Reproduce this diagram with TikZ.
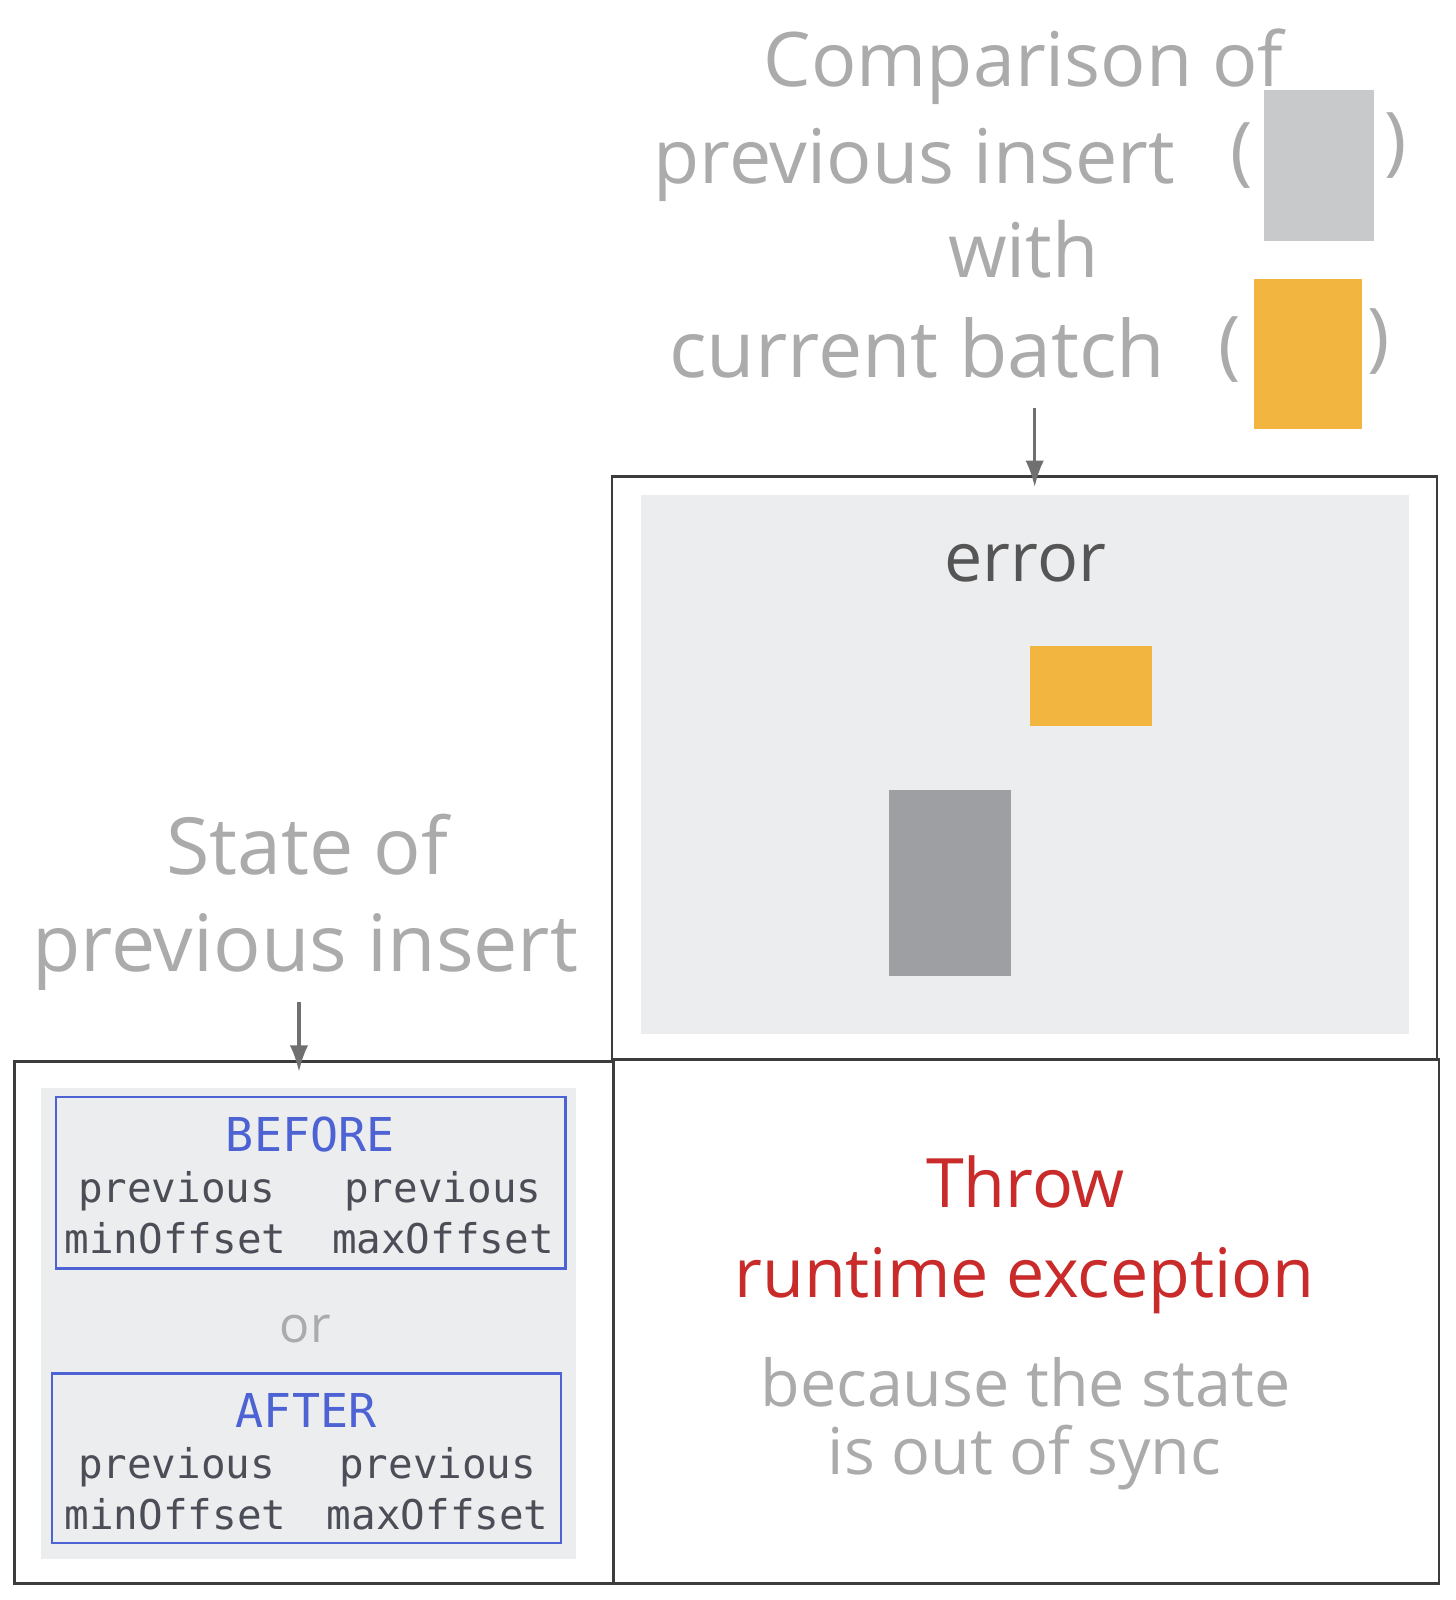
\documentclass[tikz,border=0pt]{standalone}
\usepackage{fontspec}
\setmainfont{Open Sans}
\setmonofont{DejaVu Sans Mono}
\usetikzlibrary{arrows.meta}

\definecolor{inkgray}{HTML}{ABABAB}
\definecolor{errink}{HTML}{555555}
\definecolor{panelgray}{HTML}{ECEDEF}
\definecolor{prevgray}{HTML}{C8C9CB}
\definecolor{darkblock}{HTML}{9D9FA3}
\definecolor{batchorange}{HTML}{F2B53F}
\definecolor{codeblue}{HTML}{4E63D3}
\definecolor{codeink}{HTML}{4B4E57}
\definecolor{throwred}{HTML}{C92A2A}
\definecolor{framegray}{HTML}{3C3C3C}
\definecolor{arrowgray}{HTML}{707070}

\begin{document}
\begin{tikzpicture}[
        x=0.01cm, y=-0.01cm,
        hand/.style={text=inkgray, inner sep=0pt, font=\fontsize{21}{25}\selectfont},
        block/.style={inner sep=0pt, outer sep=0pt, draw=none},
        gridcell/.style={draw=framegray, line width=0.8pt, inner sep=0pt},
        optbox/.style={draw=codeblue, line width=0.6pt, inner sep=0pt, minimum width=4.99cm},
        optname/.style={text=codeblue, inner sep=0pt, font=\ttfamily\fontsize{13}{15}\selectfont},
        codetxt/.style={text=codeink, inner sep=0pt, font=\ttfamily\fontsize{11.4}{14}\selectfont},
        >={Latex[length=2.6mm,width=1.8mm]}
    ]
    \path[use as bounding box, fill=white] (0,0) rectangle (1426,1568);

    % Cells
    \node[gridcell, minimum width=8.08cm, minimum height=5.71cm] (errcell) at (1004,752.5) {};
    \node[gridcell, minimum width=5.87cm, minimum height=5.12cm] (statecell) at (307.5,1296) {};
    \node[gridcell, minimum width=8.09cm, minimum height=5.14cm] (throwcell) at (1005.5,1295) {};

    % Title
    \node[hand, anchor=base] (cmpline1) at (1003,85) {Comparison of};
    \node[hand, anchor=base] (cmpline2) at (896,180) {previous insert};
    \node[hand] (cmpopen2) at (1217,152) {(};
    \node[block, fill=prevgray, minimum width=1.07cm, minimum height=1.48cm] (prevkey) at (1292.5,162) {};
    \node[hand] (cmpclose2) at (1368,143) {)};
    \node[hand, anchor=base] (cmpline3) at (1003,272) {with};
    \node[hand, anchor=base, font=\fontsize{22}{26}\selectfont] (cmpline4) at (899,370) {current batch};
    \node[hand] (cmpopen4) at (1205,343) {(};
    \node[block, fill=batchorange, minimum width=1.06cm, minimum height=1.47cm] (batchkey) at (1282,346.5) {};
    \node[hand] (cmpclose4) at (1351,335) {)};
    \coordinate (cmpfoot) at (1014,400);

    % Error case
    \node[block, fill=panelgray, minimum width=7.53cm, minimum height=5.28cm] (errpanel) at (1004.5,749) {};
    \node[hand, text=errink, anchor=base, font=\fontsize{19}{23}\selectfont] (errtext) at (1005,570) {error};
    \node[block, fill=batchorange, minimum width=1.20cm, minimum height=0.78cm] (batchblock) at (1069,672) {};
    \node[block, fill=darkblock, minimum width=1.20cm, minimum height=1.82cm] (prevblock) at (931,865) {};

    % State of previous insert
    \node[hand, anchor=base, font=\fontsize{22}{26}\selectfont] (stateline1) at (301,857) {State of};
    \node[hand, anchor=base, font=\fontsize{22}{26}\selectfont] (stateline2) at (299,952) {previous insert};
    \coordinate (statefoot) at (293,982);

    \node[block, fill=panelgray, minimum width=5.24cm, minimum height=4.62cm] (statepanel) at (302,1297) {};
    \node[optbox, minimum height=1.68cm] (beforebox) at (304.5,1159) {};
    \node[optname, anchor=base] (beforename) at (304,1128) {BEFORE};
    \node[codetxt, anchor=base] (beforeprevl) at (173,1178) {previous};
    \node[codetxt, anchor=base] (beforeprevr) at (434,1178) {previous};
    \node[codetxt, anchor=base] (beforemin) at (172,1228) {minOffset};
    \node[codetxt, anchor=base] (beforemax) at (434,1228) {maxOffset};

    \node[hand, anchor=base, font=\fontsize{14}{17}\selectfont] (ortext) at (299,1316) {or};

    \node[optbox, minimum height=1.66cm] (afterbox) at (300.5,1429) {};
    \node[optname, anchor=base] (aftername) at (300,1399) {AFTER};
    \node[codetxt, anchor=base] (afterprevl) at (173,1449) {previous};
    \node[codetxt, anchor=base] (afterprevr) at (429,1449) {previous};
    \node[codetxt, anchor=base] (aftermin) at (172,1499) {minOffset};
    \node[codetxt, anchor=base] (aftermax) at (429,1499) {maxOffset};

    % Result
    \node[hand, text=throwred, anchor=base, font=\fontsize{19}{23}\selectfont] (throwline1) at (1005,1183) {Throw};
    \node[hand, text=throwred, anchor=base, font=\fontsize{19}{23}\selectfont] (throwline2) at (1004,1272) {runtime exception};
    \node[hand, anchor=base, font=\fontsize{18}{22}\selectfont] (reasonline1) at (1005,1378) {because the state};
    \node[hand, anchor=base, font=\fontsize{18}{22}\selectfont] (reasonline2) at (1004,1445) {is out of sync};

    % Arrows
    \draw[->, arrowgray, line width=0.85pt, shorten >=-0.12cm] (cmpfoot) -- (cmpfoot |- errcell.north);
    \draw[->, arrowgray, line width=0.85pt, shorten >=-0.12cm] (statefoot) -- (statefoot |- statecell.north);

\end{tikzpicture}
\end{document}
